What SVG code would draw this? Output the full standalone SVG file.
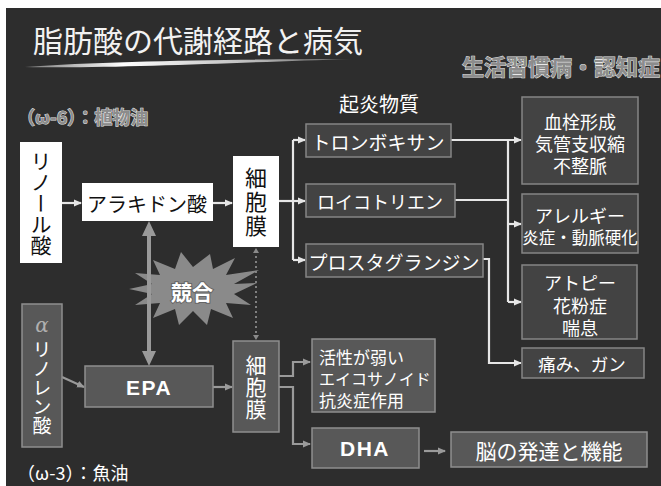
<svg xmlns="http://www.w3.org/2000/svg" width="661" height="486" viewBox="0 0 661 486">
<style>
text{font-family:"Noto Sans CJK JP","Noto Sans",sans-serif;dominant-baseline:central}
.w{fill:#fff}
.k{fill:#111}
.mid{text-anchor:middle}
.vt{writing-mode:vertical-rl;text-anchor:middle;dominant-baseline:auto}
.wbox{fill:#fff}
.dbox{fill:#434343;stroke:#858585;stroke-width:1.5}
.gbox{fill:#585858;stroke:#8e8e8e;stroke-width:1.5}
.wl{fill:none;stroke:#e6e6e6;stroke-width:2.2}
.gl{fill:none;stroke:#9a9a9a;stroke-width:2.2}
.outl{fill:#8c8c8c;stroke:#e8e8e8;stroke-width:1;font-weight:bold;paint-order:stroke}
.lat{font-family:"Liberation Sans",Arial,sans-serif;font-weight:bold}
</style>
<defs>
<marker id="aw" markerWidth="8" markerHeight="8" refX="7" refY="4" orient="auto" markerUnits="userSpaceOnUse"><path d="M0,0.5 L8,4 L0,7.5 Z" fill="#e6e6e6"/></marker>
<marker id="ag" markerWidth="8" markerHeight="8" refX="7" refY="4" orient="auto" markerUnits="userSpaceOnUse"><path d="M0,0.5 L8,4 L0,7.5 Z" fill="#9a9a9a"/></marker>
<linearGradient id="sw" x1="0" x2="1" y1="0" y2="0">
<stop offset="0" stop-color="#777"/><stop offset="0.3" stop-color="#fff"/><stop offset="0.7" stop-color="#bbb"/><stop offset="1" stop-color="#555"/>
</linearGradient>
</defs>
<rect x="0" y="0" width="661" height="486" fill="#ffffff"/>
<rect x="6" y="8" width="655" height="478" fill="#2d2d2d"/>

<g id="title">
<text x="33" y="39" style="font-size:30px;fill:#f2f2f2">脂肪酸の代謝経路と病気</text>
<path d="M25,67 C110,61 250,59 352,59 C250,62 110,69 25,67 Z" fill="url(#sw)"/>
</g>
<g id="subtitle"><text x="462" y="65" class="outl" style="font-size:22px">生活習慣病・認知症</text></g>
<g id="omega6"><text x="17" y="116" class="outl" style="font-size:18px">（ω-6）：植物油</text></g>
<g id="inflam-label"><text x="379" y="103" class="w mid" style="font-size:20px">起炎物質</text></g>
<g id="omega3"><text x="17" y="472" class="w" style="font-size:18px">（ω-3）：魚油</text></g>

<g id="kyogo">
<polygon points="257,283 234,294 251,305 226,303 233,318 211,309 207,325 193,311 179,325 175,309 153,318 160,303 135,305 152,294 129,289 152,284 135,273 160,275 153,260 175,269 181,252 193,267 210,254 213,269 235,258 226,275 259,270 234,284" fill="#8a8a8a"/>
<text x="192" y="291" class="mid" style="font-size:21px;fill:#fff;stroke:#666;stroke-width:2;paint-order:stroke;font-weight:bold">競合</text>
</g>

<g id="connectors">
<path class="wl" d="M62,203 H81" marker-end="url(#aw)"/>
<path class="wl" d="M213,203 H232" marker-end="url(#aw)"/>
<path class="wl" d="M279,201 H305" marker-end="url(#aw)"/>
<path class="wl" d="M293,140 V260"/>
<path class="wl" d="M293,140 H305" marker-end="url(#aw)"/>
<path class="wl" d="M293,260 H305" marker-end="url(#aw)"/>
<path class="wl" d="M451,140 H521" marker-end="url(#aw)"/>
<path class="wl" d="M455,200 H508"/>
<path class="wl" d="M508,140 V302"/>
<path class="wl" d="M508,224 H521" marker-end="url(#aw)"/>
<path class="wl" d="M508,302 H521" marker-end="url(#aw)"/>
<path class="wl" d="M483,259 H489 V363 H521" marker-end="url(#aw)"/>
<path class="gl" d="M62,377 L84,387" marker-end="url(#ag)"/>
<path class="gl" d="M213,387 H232" marker-end="url(#ag)"/>
<path class="gl" d="M279,376 H293 V362 H310" marker-end="url(#ag)"/>
<path class="gl" d="M279,387 H293 V444 H310" marker-end="url(#ag)"/>
<path class="gl" d="M424,451 H445" marker-end="url(#ag)"/>
<path fill="none" stroke="#9a9a9a" stroke-width="4" d="M149,236 V352"/>
<path d="M149,221 L142,236 L156,236 Z M149,366 L142,351 L156,351 Z" fill="#9a9a9a"/>
<path fill="none" stroke="#8a8a8a" stroke-width="1.8" stroke-dasharray="2,3" d="M256,251 V336"/>
<path d="M256,248 L253,253 L259,253 Z M256,340 L253,335 L259,335 Z" fill="#8a8a8a"/>
</g>

<g id="linoleic">
<rect class="wbox" x="20" y="142" width="42" height="121"/>
<text x="41" y="203" class="k vt" style="font-size:21px">リノール酸</text>
</g>
<g id="arachidonic">
<rect class="wbox" x="82" y="183" width="131" height="38"/>
<text x="147" y="203" class="k mid" style="font-size:20px">アラキドン酸</text>
</g>
<g id="membrane1">
<rect class="wbox" x="233" y="156" width="46" height="91"/>
<text x="256" y="203" class="k vt" style="font-size:22px;letter-spacing:2px">細胞膜</text>
</g>
<g id="thromboxane">
<rect class="dbox" x="306" y="124" width="145" height="33"/>
<text x="378" y="141" class="w mid" style="font-size:19px">トロンボキサン</text>
</g>
<g id="leukotriene">
<rect class="dbox" x="306" y="184" width="149" height="33"/>
<text x="380" y="201" class="w mid" style="font-size:18px">ロイコトリエン</text>
</g>
<g id="prostaglandin">
<rect class="dbox" x="306" y="244" width="177" height="33"/>
<text x="394" y="261" class="w mid" style="font-size:19px">プロスタグランジン</text>
</g>
<g id="thrombus">
<rect class="dbox" x="522" y="97" width="116" height="87"/>
<text class="w mid" style="font-size:18px"><tspan x="580" y="121">血栓形成</tspan><tspan x="580" y="143">気管支収縮</tspan><tspan x="580" y="165">不整脈</tspan></text>
</g>
<g id="allergy">
<rect class="dbox" x="522" y="194" width="116" height="59"/>
<text class="w mid" style="font-size:18px"><tspan x="580" y="215">アレルギー</tspan><tspan x="580" y="237" style="font-size:16.5px">炎症・動脈硬化</tspan></text>
</g>
<g id="atopy">
<rect class="dbox" x="522" y="265" width="115" height="74"/>
<text class="w mid" style="font-size:18px"><tspan x="580" y="282">アトピー</tspan><tspan x="580" y="305">花粉症</tspan><tspan x="580" y="327">喘息</tspan></text>
</g>
<g id="pain">
<rect class="dbox" x="522" y="348" width="122" height="30"/>
<text x="582" y="363" class="w mid" style="font-size:17.5px">痛み、ガン</text>
</g>
<g id="alinolenic">
<rect class="gbox" x="22" y="304" width="40" height="143"/>
<text x="42" y="325" class="mid" style="font-size:20px;fill:#b0b0b0;font-style:italic;font-family:'DejaVu Serif',serif">α</text>
<text x="42" y="388" class="w vt" style="font-size:19px">リノレン酸</text>
</g>
<g id="epa">
<rect class="gbox" x="85" y="366" width="128" height="41"/>
<text x="149" y="387" class="w mid lat" style="font-size:21px;letter-spacing:1.5px">EPA</text>
</g>
<g id="membrane2">
<rect class="gbox" x="233" y="341" width="46" height="91"/>
<text x="256" y="388" class="w vt" style="font-size:21px;letter-spacing:1px">細胞膜</text>
</g>
<g id="weak">
<rect class="gbox" x="312" y="339" width="123" height="73"/>
<text class="w" style="font-size:17px"><tspan x="319" y="356">活性が弱い</tspan><tspan x="319" y="378" style="font-size:16px">エイコサノイド</tspan><tspan x="319" y="399">抗炎症作用</tspan></text>
</g>
<g id="dha">
<rect class="gbox" x="312" y="428" width="107" height="40"/>
<text x="365" y="448" class="w mid lat" style="font-size:21px;letter-spacing:1.5px">DHA</text>
</g>
<g id="brain">
<rect class="gbox" x="451" y="432" width="196" height="35"/>
<text x="549" y="450" class="w mid" style="font-size:21px">脳の発達と機能</text>
</g>
</svg>
